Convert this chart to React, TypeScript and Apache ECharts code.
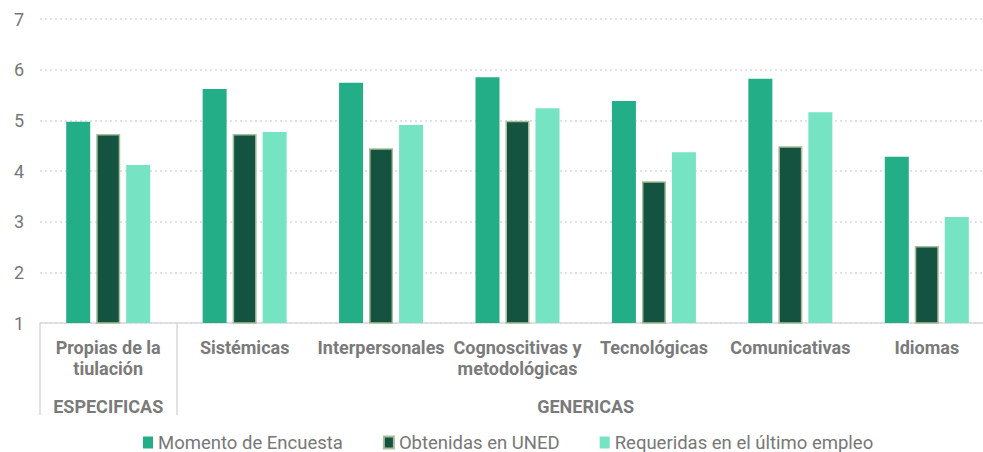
import React, { useEffect, useRef } from "react";
import * as echarts from "echarts";

const categories = [
  "Propias de la\ntiulación",
  "Sistémicas",
  "Interpersonales",
  "Cognoscitivas y\nmetodológicas",
  "Tecnológicas",
  "Comunicativas",
  "Idiomas",
];
const groupLabels: Record<string, string> = { "0.5": "ESPECIFICAS", "4": "GENERICAS" };
const seriesNames = ["Momento de Encuesta", "Obtenidas en UNED", "Requeridas en el último empleo"];
const momento = [4.97, 5.62, 5.74, 5.85, 5.38, 5.82, 4.28];
const obtenidas = [4.73, 4.73, 4.45, 4.99, 3.8, 4.49, 2.52];
const requeridas = [4.12, 4.77, 4.91, 5.24, 4.37, 5.16, 3.09];
const colors = ["#23ae88", "#14533f", "#76e3c3"];

export default function App() {
  const ref = useRef<HTMLDivElement>(null);
  useEffect(() => {
    document.body.style.margin = "0";
    const chart = echarts.init(ref.current!, null, { renderer: "svg" });
    const font = "Roboto";
    chart.setOption({
      animation: false,
      textStyle: { fontFamily: font },
      grid: { left: 40, right: 5, top: 19, bottom: 129, containLabel: false },
      legend: {
        bottom: 0,
        left: 143,
        padding: 0,
        itemWidth: 10,
        itemHeight: 12,
        itemGap: 40,
        icon: "rect",
        textStyle: { fontSize: 18.5, color: "#777777", fontFamily: font },
        data: seriesNames,
      },
      xAxis: [
        {
          type: "category",
          data: categories,
          axisLine: { lineStyle: { color: "#d9d9d9", width: 1.5 } },
          axisTick: {
            show: true,
            length: 92,
            interval: (i: number) => i === 0 || i === 1,
            lineStyle: { color: "#d9d9d9", width: 1.5 },
          },
          axisLabel: {
            interval: 0,
            fontSize: 18,
            fontWeight: "bold",
            color: "#7a7a7a",
            lineHeight: 21,
            margin: 14,
            fontFamily: font,
          },
        },
        {
          type: "value",
          position: "bottom",
          min: 0,
          max: 7,
          interval: 0.5,
          offset: 66,
          axisLine: { show: false },
          axisTick: { show: false },
          splitLine: { show: false },
          axisLabel: {
            fontSize: 18,
            fontWeight: "bold",
            color: "#7a7a7a",
            fontFamily: font,
            showMinLabel: false,
            showMaxLabel: false,
            formatter: (v: number) => groupLabels[String(v)] || "",
          },
        },
      ],
      yAxis: {
        type: "value",
        min: 1,
        max: 7,
        interval: 1,
        axisLine: { show: false },
        axisTick: { show: false },
        axisLabel: { fontSize: 18, color: "#777777", margin: 16, fontFamily: font },
        splitLine: { lineStyle: { color: "#d9d9d9", type: [2, 3], width: 1.5 } },
      },
      series: [
        {
          name: seriesNames[0],
          type: "bar",
          data: momento,
          barWidth: 24,
          barGap: "25%",
          itemStyle: { color: colors[0] },
        },
        {
          name: seriesNames[1],
          type: "bar",
          data: obtenidas,
          barWidth: 24,
          barGap: "25%",
          itemStyle: { color: colors[1], borderColor: "#a7bd9b", borderWidth: 1.5 },
        },
        {
          name: seriesNames[2],
          type: "bar",
          data: requeridas,
          barWidth: 24,
          barGap: "25%",
          itemStyle: { color: colors[2] },
        },
      ],
    });
    return () => chart.dispose();
  }, []);
  return (
    <div style={{ width: 983, height: 452, overflow: "hidden" }}>
      <div ref={ref} style={{ width: 1000, height: 452 }} />
    </div>
  );
}
